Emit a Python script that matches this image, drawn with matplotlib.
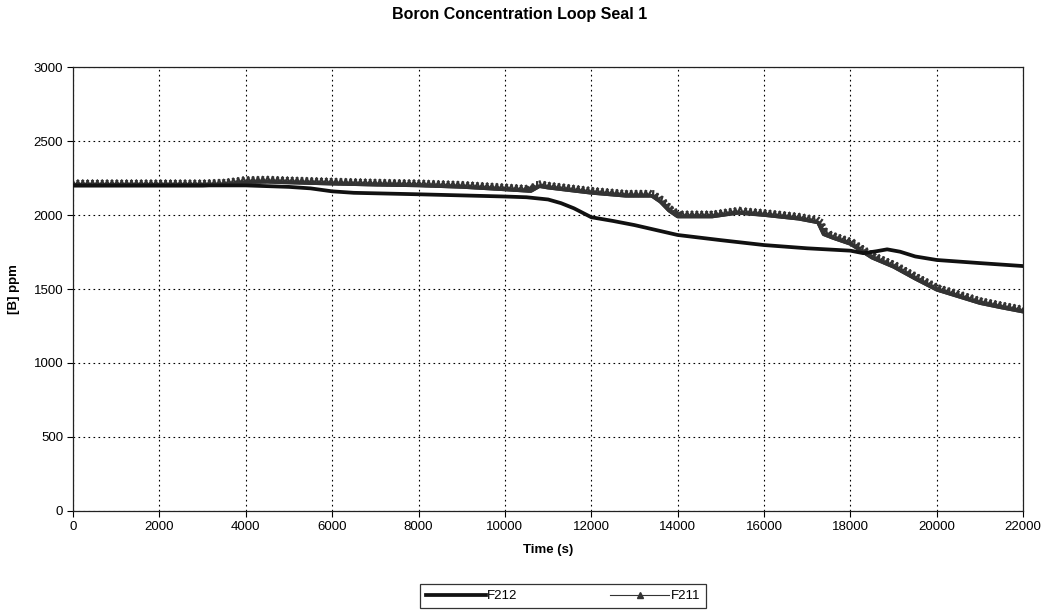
import numpy as np
import matplotlib
matplotlib.use("Agg")
import matplotlib.pyplot as plt
from matplotlib import patheffects as pe

plt.rcParams['font.family'] = ['Liberation Sans', 'DejaVu Sans']

# time (s) and boron concentration (ppm)
t_f212 = [0, 1000, 2000, 3000, 3500, 4000, 5000, 5500, 6000, 6500, 8000, 10000,
          10500, 11000, 11300, 11600, 12000, 12500, 13000, 14000, 15000, 16000,
          17000, 18000, 18300, 18600, 18850, 19150, 19500, 20000, 21000, 22000]
b_f212 = [2200, 2200, 2200, 2200, 2200, 2200, 2190, 2180, 2160, 2150, 2140, 2125,
          2120, 2105, 2080, 2045, 1985, 1960, 1932, 1865, 1830, 1797,
          1775, 1759, 1742, 1755, 1768, 1752, 1720, 1696, 1675, 1655]

t_f211 = [0, 1000, 2000, 3000, 3500, 4000, 4500, 5000, 6000, 7000, 8000, 9000,
          10000, 10600, 10800, 11000, 12000, 12800, 13400, 13600, 13800, 14000,
          14800, 15400, 16000, 16800, 17250, 17380, 17600, 18000, 18500, 19000,
          19500, 20000, 20500, 21000, 21500, 22000]
b_f211 = [2200, 2200, 2200, 2200, 2205, 2222, 2225, 2220, 2212, 2205, 2200, 2190,
          2173, 2162, 2195, 2185, 2150, 2130, 2130, 2090, 2030, 1990,
          1990, 2015, 2000, 1975, 1950, 1870, 1845, 1805, 1712, 1650,
          1570, 1495, 1450, 1405, 1375, 1347]

x_ticks = np.arange(0, 22001, 2000)
y_ticks = np.arange(0, 3001, 500)

fig = plt.figure(figsize=(10.43, 6.11), dpi=100)
ax = fig.add_axes([0.070, 0.1637, 0.911, 0.7266])

ax.plot(t_f212, b_f212, color='#111111', lw=2.7, label='F212', zorder=3)

# dense triangle markers of the original drawn as ticks along the line
tri = [pe.withTickedStroke(spacing=3.5, angle=60, length=1.1, linewidth=1.6),
       pe.withTickedStroke(spacing=3.5, angle=120, length=1.1, linewidth=1.6)]
ax.plot(t_f211, b_f211, color='#333333', lw=2.6, zorder=2, path_effects=tri)
# legend proxy
ax.plot([], [], color='#333333', lw=0.8, marker='^', ms=4, label='F211')

ax.set_xlim(0, 22000)
ax.set_ylim(0, 3000)
ax.set_xticks(x_ticks)
ax.set_yticks(y_ticks)
ax.tick_params(labelsize=9.5, length=4, width=0.8, direction='out', pad=3)
ax.grid(True, color='black', linestyle=(0, (1.5, 3)), lw=0.8)
for s in ax.spines.values():
    s.set_color('#222222')
    s.set_linewidth(0.9)

ax.set_xlabel('Time (s)', fontsize=9.5, fontweight='bold', labelpad=8)
ax.set_ylabel('[B] ppm', fontsize=9.5, fontweight='bold', labelpad=10)
fig.suptitle('Boron Concentration Loop Seal 1', fontsize=11.5, fontweight='bold',
             x=0.498, y=0.988)

handles, labels = ax.get_legend_handles_labels()
leg = fig.legend(handles, labels, loc='center', bbox_to_anchor=(0.54, 0.0245),
                 ncol=2, fontsize=9.5, frameon=True, fancybox=False,
                 edgecolor='black', handlelength=4.5, columnspacing=7,
                 borderpad=0.45, handletextpad=0.1)
leg.get_frame().set_linewidth(0.9)

fig.savefig('out.png', dpi=100)
